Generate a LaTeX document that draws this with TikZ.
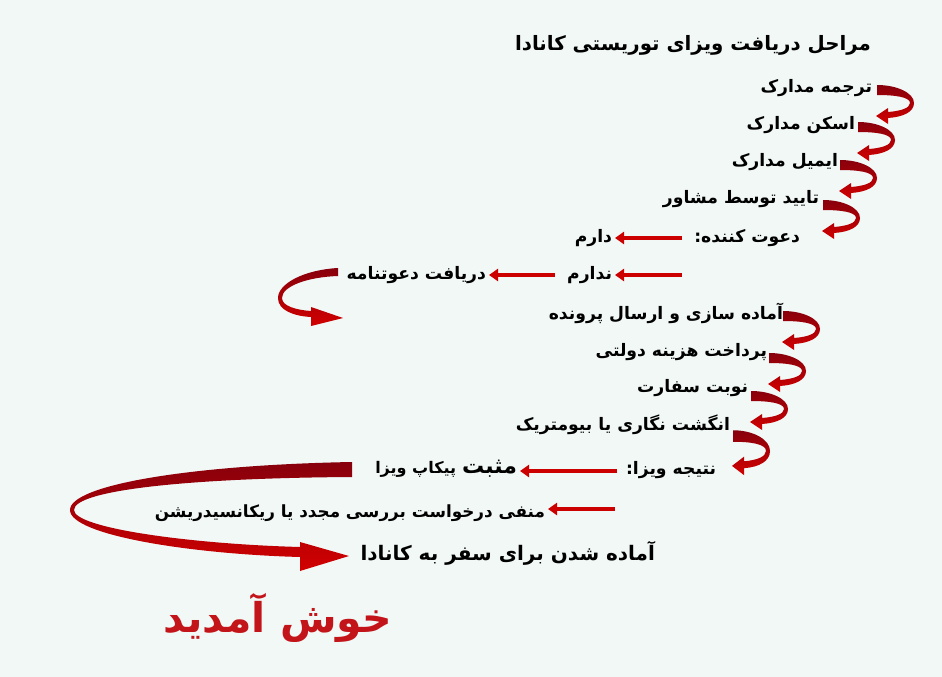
\documentclass[tikz,border=0pt]{standalone}
\usepackage{fontspec}
\usetikzlibrary{arrows.meta,calc}
\TeXXeTstate=1
\newfontfamily\fa[Script=Arabic]{DejaVu Sans}
\newcommand\rl[1]{\beginR #1\endR}
\definecolor{bgc}{RGB}{241,248,246}
\definecolor{ribdark}{RGB}{135,0,12}
\definecolor{ribred}{RGB}{210,0,0}
\definecolor{arrred}{RGB}{205,0,0}
\definecolor{welc}{RGB}{195,20,25}
\tikzset{
  lbl/.style={anchor=east,inner sep=0pt,outer sep=0pt,font=\fa\bfseries\fontsize{17.2}{20}\selectfont,text=black},
  ttl/.style={lbl,font=\fa\bfseries\fontsize{19.8}{23}\selectfont},
  sarr/.style={draw=arrred,line width=4.5pt,shorten >=3pt,-{Triangle[length=9pt,width=12pt]}},
  ribbon/.style={top color=ribdark,bottom color=ribred,draw=none},
  pics/sarrow/.style={code={
    \shade[ribbon] (0,-5) .. controls (20,-5) and (37,3) .. (37,13)
      .. controls (37,22) and (26,27) .. (11,28) -- (11,34) -- (-1,26) -- (11,18) -- (11,22)
      .. controls (24,21) and (33,18) .. (33,13) .. controls (33,7) and (18,5) .. (0,5) -- cycle;
  }}
}
\begin{document}
\begin{tikzpicture}[x=1pt,y=-1pt]
\fill[bgc] (0,0) rectangle (942,677);
\useasboundingbox (0,0) rectangle (942,677);
% labels
\node[ttl] (title) at (871,45) {\rl{مراحل دریافت ویزای توریستی کانادا}};
\node[lbl] (t1) at (872,88) {\rl{ترجمه مدارک}};
\node[lbl] (t2) at (855,125) {\rl{اسکن مدارک}};
\node[lbl] (t3) at (838,162) {\rl{ایمیل مدارک}};
\node[lbl] (t4) at (819,199) {\rl{تایید توسط مشاور}};
\node[lbl] (t5) at (800,238) {\rl{دعوت کننده:}};
\node[lbl] (t6) at (612,238) {\rl{دارم}};
\node[lbl] (t7) at (612,275) {\rl{ندارم}};
\node[lbl] (t8) at (486,275) {\rl{دریافت دعوتنامه}};
\node[lbl] (t9) at (783,313) {\rl{آماده سازی و ارسال پرونده}};
\node[lbl] (t10) at (767,352) {\rl{پرداخت هزینه دولتی}};
\node[lbl] (t11) at (748,388) {\rl{نوبت سفارت}};
\node[lbl] (t12) at (730,425) {\rl{انگشت نگاری یا بیومتریک}};
\node[lbl] (t13) at (716,470) {\rl{نتیجه ویزا:}};
\node[lbl] (t14) at (517,469) {\rl{{\fontsize{22}{25}\selectfont مثبت} {\fontsize{16}{20}\selectfont پیکاپ ویزا}}};
\node[lbl,font=\fa\bfseries\fontsize{16.8}{20}\selectfont] (t16) at (545,513) {\rl{منفی درخواست بررسی  مجدد یا ریکانسیدریشن}};
\node[ttl,font=\fa\bfseries\fontsize{20}{23}\selectfont] (t17) at (655,553) {\rl{آماده شدن برای سفر به کانادا}};
\node[lbl,font=\fa\bfseries\fontsize{41}{46}\selectfont,text=welc] (t18) at (392,618) {\rl{خوش آمدید}};
% straight arrows
\coordinate (c1) at (682,238);
\coordinate (c2) at (682,275);
\coordinate (c3) at (555,275);
\coordinate (c4) at (617,471);
\coordinate (c5) at (615,509);
\draw[sarr] (c1) -- (t6.east|-c1);
\draw[sarr] (c2) -- (t7.east|-c2);
\draw[sarr] (c3) -- (t8.east|-c3);
\draw[sarr] (c4) -- (t14.east|-c4);
\draw[sarr] (c5) -- (t16.east|-c5);
% S ribbons
\pic at (877,90) {sarrow};
\pic at (858,127) {sarrow};
\pic at (840,165) {sarrow};
\pic at (823,205) {sarrow};
\pic at (783,316) {sarrow};
\pic at (769,358) {sarrow};
\pic at (751,396) {sarrow};
\pic[yscale=1.15] at (733,436) {sarrow};
% invitation ribbon
\shade[ribbon] (338,268) .. controls (303,270) and (278,284) .. (278,298)
  .. controls (278,310) and (293,316) .. (311,317) -- (311,326) -- (343,318) -- (311,307) -- (311,311)
  .. controls (296,310) and (282,306) .. (282,298) .. controls (282,286) and (308,277) .. (338,276) -- cycle;
% big return ribbon
\shade[ribbon] (352,462) .. controls (190,465) and (70,485) .. (70,510)
  .. controls (70,535) and (190,554) .. (300,557) -- (300,571) -- (349,556) -- (300,542) -- (300,547)
  .. controls (190,544) and (74,528) .. (74,510) .. controls (74,490) and (190,478) .. (352,477) -- cycle;
\end{tikzpicture}
\end{document}
